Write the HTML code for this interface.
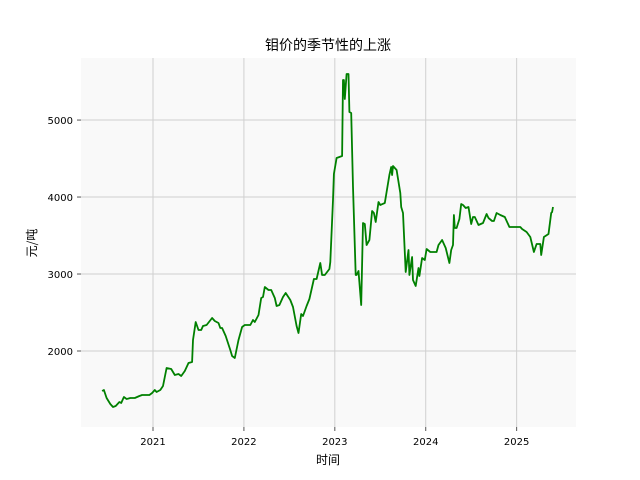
<!DOCTYPE html>
<html><head><meta charset="utf-8"><style>
body{margin:0;background:#fff;}
svg{display:block;font-family:"DejaVu Sans","Noto Sans CJK SC",sans-serif;}
</style></head><body>
<svg id="chart" width="640" height="480">
<rect x="0" y="0" width="640" height="480" fill="#fff"/>
<rect x="81" y="58" width="495" height="369" fill="#f9f9f9"/>
<g id="grid"></g><g id="ticks"></g>
<path id="line" fill="none" stroke="#008000" stroke-width="1.8" stroke-linejoin="round"/>
<text x="328" y="50" text-anchor="middle" font-size="14" fill="#000" font-family="Noto Sans CJK SC, sans-serif">钼价的季节性的上涨</text>
<text x="328" y="464" text-anchor="middle" font-size="12" fill="#000" font-family="Noto Sans CJK SC, sans-serif">时间</text>
<text transform="translate(36,243) rotate(-90)" text-anchor="middle" font-size="12" fill="#000" font-family="Noto Sans CJK SC, sans-serif">元/吨</text>
</svg>
<script>
const dates=[2020.44,2020.46,2020.49,2020.53,2020.56,2020.59,2020.63,2020.65,2020.68,2020.71,2020.75,2020.80,2020.85,2020.88,2020.96,2020.99,2021.02,2021.04,2021.08,2021.11,2021.13,2021.15,2021.20,2021.24,2021.28,2021.31,2021.35,2021.39,2021.43,2021.44,2021.47,2021.50,2021.53,2021.55,2021.59,2021.65,2021.68,2021.72,2021.74,2021.76,2021.80,2021.85,2021.87,2021.90,2021.94,2021.98,2022.01,2022.07,2022.10,2022.12,2022.16,2022.19,2022.21,2022.23,2022.27,2022.30,2022.34,2022.36,2022.39,2022.43,2022.46,2022.51,2022.54,2022.58,2022.60,2022.63,2022.65,2022.69,2022.72,2022.77,2022.80,2022.84,2022.86,2022.89,2022.94,2022.95,2022.98,2022.99,2023.02,2023.08,2023.09,2023.10,2023.11,2023.13,2023.15,2023.16,2023.18,2023.20,2023.23,2023.24,2023.26,2023.29,2023.31,2023.33,2023.35,2023.38,2023.41,2023.43,2023.45,2023.48,2023.50,2023.55,2023.57,2023.60,2023.62,2023.63,2023.64,2023.68,2023.72,2023.73,2023.75,2023.78,2023.81,2023.82,2023.85,2023.86,2023.89,2023.92,2023.93,2023.96,2023.99,2024.01,2024.05,2024.12,2024.14,2024.18,2024.22,2024.26,2024.28,2024.30,2024.31,2024.32,2024.34,2024.37,2024.39,2024.41,2024.44,2024.47,2024.50,2024.52,2024.54,2024.58,2024.63,2024.67,2024.69,2024.73,2024.75,2024.78,2024.82,2024.87,2024.92,2025.04,2025.06,2025.11,2025.15,2025.19,2025.22,2025.26,2025.27,2025.30,2025.35,2025.38,2025.39,2025.40];
const prices=[1481,1494,1390,1312,1273,1286,1338,1325,1403,1377,1390,1390,1416,1429,1429,1455,1494,1468,1494,1546,1662,1779,1766,1688,1701,1675,1740,1844,1857,2143,2377,2273,2273,2325,2338,2429,2390,2364,2299,2299,2195,2013,1935,1909,2143,2312,2338,2338,2403,2377,2468,2689,2702,2832,2793,2793,2689,2585,2598,2702,2754,2663,2572,2325,2234,2481,2455,2585,2676,2936,2936,3143,2987,2987,3065,3156,3962,4299,4507,4533,5520,5520,5274,5598,5598,5105,5092,4131,2987,2987,3039,2598,3663,3650,3377,3442,3819,3793,3676,3936,3897,3923,4066,4286,4390,4286,4403,4351,4053,3871,3793,3026,3312,2987,3221,2923,2845,3078,2974,3208,3182,3325,3286,3286,3377,3442,3338,3143,3312,3377,3767,3598,3598,3715,3910,3897,3858,3871,3650,3741,3741,3637,3663,3780,3728,3689,3689,3793,3767,3741,3611,3611,3585,3546,3481,3286,3390,3390,3247,3481,3520,3793,3806,3871];
const xTicks=[2021,2022,2023,2024,2025];
const yTicks=[2000,3000,4000,5000];
const X0=81,X1=576,Y0=427,Y1=58,XMIN=2020.208,XMAX=2025.653,YMIN=1013,YMAX=5806;
function sx(v){return X0+(v-XMIN)/(XMAX-XMIN)*(X1-X0);}
function sy(v){return Y0-(v-YMIN)/(YMAX-YMIN)*(Y0-Y1);}
const NS='http://www.w3.org/2000/svg';
const grid=document.getElementById('grid'),ticks=document.getElementById('ticks');
function mk(tag,attrs,parent){const e=document.createElementNS(NS,tag);for(const k in attrs)e.setAttribute(k,attrs[k]);parent.appendChild(e);return e;}
xTicks.forEach(t=>{const x=sx(t);
 const g=mk('line',{x1:x,x2:x,y1:Y1,y2:Y0,stroke:'#d0d0d0','stroke-width':1},grid);
 
 
 const tk=mk('line',{x1:x,x2:x,y1:Y0,y2:Y0+4,stroke:'#555','stroke-width':1},ticks);
 
 
 const tx=mk('text',{x:x,y:Y0+18,'text-anchor':'middle','font-size':10,fill:'#000'},ticks);
 tx.textContent=t;
 
 
});
yTicks.forEach(t=>{const y=sy(t);
 const g=mk('line',{x1:X0,x2:X1,y1:y,y2:y,stroke:'#d0d0d0','stroke-width':1},grid);
 
 
 const tk=mk('line',{x1:X0-4,x2:X0,y1:y,y2:y,stroke:'#555','stroke-width':1},ticks);
 
 
 const tx=mk('text',{x:X0-8,y:y+4,'text-anchor':'end','font-size':10,fill:'#000'},ticks);
 tx.textContent=t;
 
 
});
document.getElementById('line').setAttribute('d',dates.map((d,i)=>(i?'L':'M')+sx(d).toFixed(1)+','+sy(prices[i]).toFixed(1)).join(''));
</script>
</body></html>
